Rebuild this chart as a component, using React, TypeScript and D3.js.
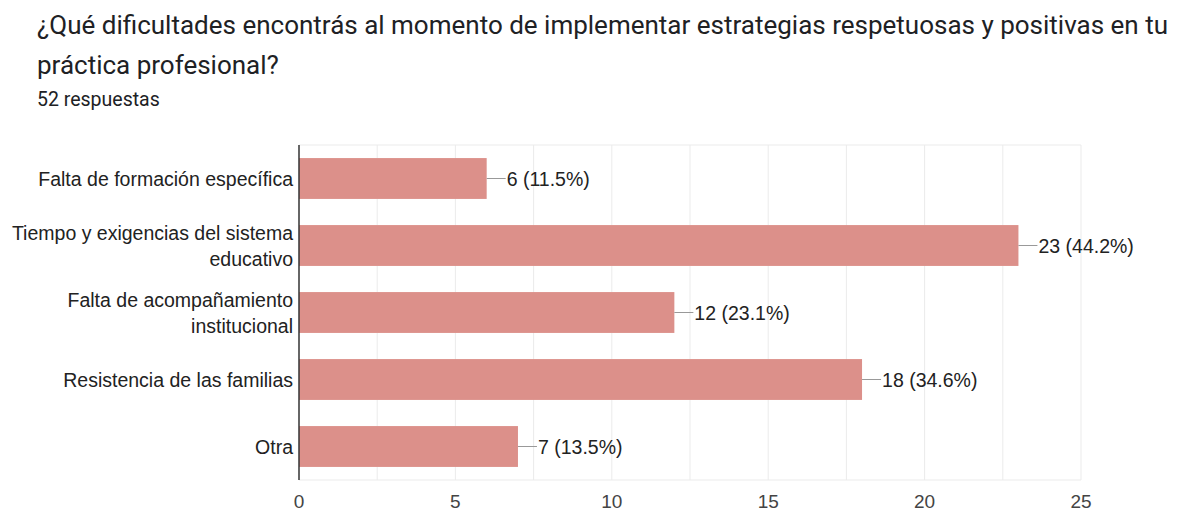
import React from "react";
import * as d3 from "d3";

const categories: string[][] = [
  ["Falta de formación específica"],
  ["Tiempo y exigencias del sistema", "educativo"],
  ["Falta de acompañamiento", "institucional"],
  ["Resistencia de las familias"],
  ["Otra"],
];
const values: number[] = [6, 23, 12, 18, 7];
const percents: string[] = ["11.5%", "44.2%", "23.1%", "34.6%", "13.5%"];
const xTicks: number[] = [0, 5, 10, 15, 20, 25];
const gridTicks: number[] = [2.5, 5, 7.5, 10, 12.5, 15, 17.5, 20, 22.5, 25];

export default function App() {
  const W = 1177, H = 512;
  const left = 299, right = 1081, top = 145, bottom = 480;
  const x = d3.scaleLinear().domain([0, 25]).range([left, right]);
  const y = d3
    .scaleBand<number>()
    .domain(values.map((_, i) => i))
    .range([top, bottom])
    .paddingInner(0.39)
    .paddingOuter(0.195);
  const labelFont = "Arial, 'Liberation Sans', sans-serif";
  return (
    <svg width={W} height={H} style={{ position: "absolute", left: 0, top: 0, background: "#fff" }}>
      <text x={37} y={34} fontFamily="Roboto, sans-serif" fontSize={26} fill="#202124">
        ¿Qué dificultades encontrás al momento de implementar estrategias respetuosas y positivas en tu
      </text>
      <text x={37} y={74} fontFamily="Roboto, sans-serif" fontSize={26} fill="#202124">
        práctica profesional?
      </text>
      <text x={37} y={106} fontFamily="Roboto, sans-serif" fontSize={19.5} fill="#202124">
        52 respuestas
      </text>
      {gridTicks.map((t) => (
        <line key={t} x1={x(t)} x2={x(t)} y1={top} y2={bottom} stroke="#ebebeb" strokeWidth={1} />
      ))}
      <line x1={left} x2={right} y1={top} y2={top} stroke="#ebebeb" />
      <line x1={left} x2={right} y1={bottom} y2={bottom} stroke="#ebebeb" />
      {values.map((v, i) => {
        const yy = y(i)!;
        const bw = y.bandwidth();
        const cy = yy + bw / 2;
        const lines = categories[i];
        return (
          <g key={i}>
            <rect x={x(0)} y={yy} width={x(v) - x(0)} height={bw} fill="#dc908a" />
            <line x1={x(v)} x2={x(v) + 19} y1={cy} y2={cy} stroke="#999" strokeWidth={1} />
            <text x={x(v) + 20} y={cy + 7} fontFamily={labelFont} fontSize={19.5} fill="#222">
              {`${v} (${percents[i]})`}
            </text>
            {lines.map((l, j) => (
              <text
                key={j}
                x={293}
                y={cy + 7 + (j - (lines.length - 1) / 2) * 26}
                textAnchor="end"
                fontFamily={labelFont}
                fontSize={19.5}
                fill="#222"
              >
                {l}
              </text>
            ))}
          </g>
        );
      })}
      <line x1={left} x2={left} y1={top} y2={bottom} stroke="#333" strokeWidth={1.5} />
      {xTicks.map((t) => (
        <text key={t} x={x(t)} y={508} textAnchor="middle" fontFamily={labelFont} fontSize={19} fill="#444">
          {t}
        </text>
      ))}
    </svg>
  );
}
